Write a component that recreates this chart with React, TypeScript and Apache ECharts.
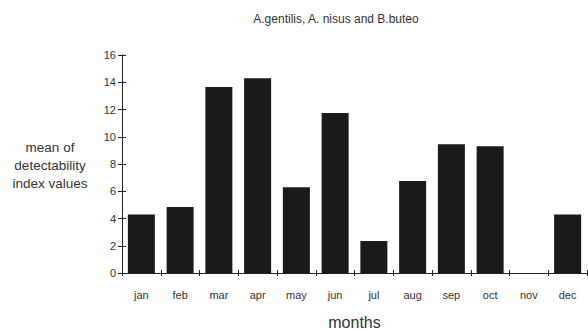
import React, { useEffect, useRef } from "react";
import * as echarts from "echarts";

const months = ["jan", "feb", "mar", "apr", "may", "jun", "jul", "aug", "sep", "oct", "nov", "dec"];
const detectability = [4.3, 4.85, 13.65, 14.3, 6.3, 11.75, 2.35, 6.75, 9.45, 9.3, 0, 4.3];
const yTicks = [0, 2, 4, 6, 8, 10, 12, 14, 16];
const titleText = "A.gentilis, A. nisus and B.buteo";
const yNameLines = ["mean of", "detectability", "index values"];
const xName = "months";

export default function App() {
  const ref = useRef<HTMLDivElement>(null);
  useEffect(() => {
    if (!ref.current) return;
    const chart = echarts.init(ref.current, null, { renderer: "svg" });
    const font = "Liberation Sans, Arial, sans-serif";
    chart.setOption({
      animation: false,
      backgroundColor: "#ffffff",
      title: {
        text: titleText,
        left: 331,
        top: 8,
        textAlign: "center",
        textStyle: { fontFamily: font, fontSize: 12, fontWeight: "normal", color: "#333" },
      },
      grid: { left: 122, right: 1, top: 55, bottom: 58, containLabel: false, outerBoundsMode: "none" },
      xAxis: [
        {
          type: "category",
          data: months,
          axisLine: { lineStyle: { color: "#222", width: 1 } },
          axisTick: { show: true, length: 3, lineStyle: { color: "#222" } },
          axisLabel: { fontFamily: font, fontSize: 11, color: "#333", margin: 16 },
          name: xName,
          nameLocation: "middle",
          nameGap: 41,
          nameTextStyle: { fontFamily: font, fontSize: 16, lineHeight: 16, color: "#333" },
        },
        {
          type: "category",
          data: months,
          position: "bottom",
          axisLine: { show: false },
          axisTick: { show: true, inside: true, length: 3, lineStyle: { color: "#222" } },
          axisLabel: { show: false },
        },
      ],
      yAxis: [
        {
          type: "value",
          min: 0,
          max: 16,
          interval: 2,
          splitLine: { show: false },
          axisLine: { show: true, lineStyle: { color: "#222", width: 1 } },
          axisTick: { show: true, length: 4, lineStyle: { color: "#222" } },
          axisLabel: {
            fontFamily: font,
            fontSize: 11,
            color: "#333",
            margin: 6,
            formatter: (v: number) => (yTicks.includes(v) ? String(v) : ""),
          },
        },
        {
          type: "value",
          min: 0,
          max: 16,
          interval: 2,
          position: "left",
          splitLine: { show: false },
          axisLine: { show: false },
          axisTick: { show: true, inside: true, length: 4, lineStyle: { color: "#222" } },
          axisLabel: { show: false },
        },
      ],
      graphic: [
        {
          type: "text",
          x: 50,
          y: 138,
          style: {
            text: yNameLines.join("\n"),
            fontFamily: font,
            fontSize: 13.5,
            lineHeight: 18,
            fill: "#333",
            align: "center",
          },
        },
      ],
      series: [
        {
          type: "bar",
          data: detectability,
          barWidth: 27,
          itemStyle: { color: "#1a1a1a" },
        },
      ],
    });
    return () => chart.dispose();
  }, []);
  return <div ref={ref} style={{ width: 588, height: 331, position: "absolute", left: 0, top: 0 }} />;
}
